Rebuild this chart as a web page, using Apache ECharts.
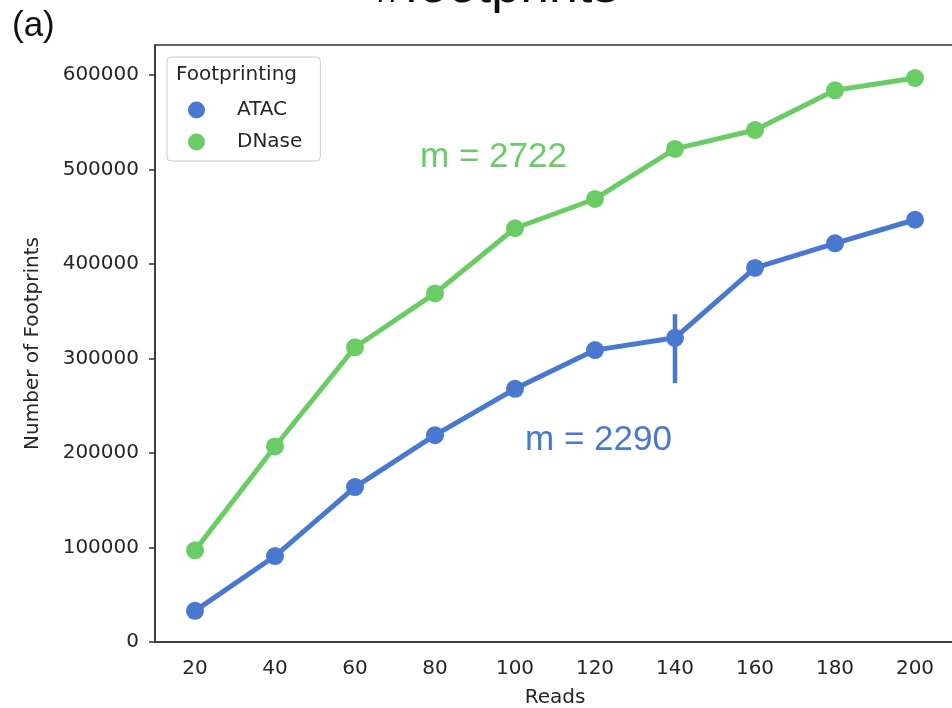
<!DOCTYPE html>
<html>
<head>
<meta charset="utf-8">
<script src="https://cdn.jsdelivr.net/npm/echarts@6/dist/echarts.min.js"></script>
<style>
  html, body { margin: 0; padding: 0; background: #fff; }
  #main { width: 952px; height: 708px; }
</style>
</head>
<body>
<div id="main"></div>
<script>
// reads (x categories)
const reads = ['20', '40', '60', '80', '100', '120', '140', '160', '180', '200'];
// number of footprints
const atac = [33000, 91000, 164000, 219000, 268000, 309000, 322000, 396000, 422000, 447000];
const dnase = [97000, 207000, 312000, 369000, 438000, 469000, 522000, 542000, 584000, 597000];
// visible error bar (ATAC, 140)
const errCats = ['140'];
const errLow = [274000];
const errHigh = [347000];

const blue = '#4878d0';
const green = '#6acc64';
const axisColor = '#333';
const font = 'DejaVu Sans';

const chart = echarts.init(document.getElementById('main'));

const errData = errCats.map((c, i) => [c, errLow[i], errHigh[i]]);

const option = {
  backgroundColor: '#fff',
  animation: false,
  grid: {
    left: 155, top: 45, width: 800, height: 597,
    outerBoundsMode: 'none',
    containLabel: false,
    show: true, borderColor: axisColor, borderWidth: 1.5
  },
  legend: {
    orient: 'vertical',
    left: 167, top: 57,
    padding: [43, 18, 9, 21],
    itemGap: 12,
    itemWidth: 17, itemHeight: 17,
    icon: 'circle',
    borderColor: '#ccc', borderWidth: 1, borderRadius: 4,
    backgroundColor: 'rgba(255,255,255,0.85)',
    textStyle: { fontFamily: font, fontSize: 20, color: '#262626', lineHeight: 20, padding: [0, 0, 0, 27] },
    data: ['ATAC', 'DNase']
  },
  xAxis: {
    type: 'category',
    data: reads,
    name: 'Reads',
    nameLocation: 'middle',
    nameGap: 46,
    nameTextStyle: { fontFamily: font, fontSize: 20, color: '#262626' },
    axisLine: { lineStyle: { color: axisColor, width: 1.5 } },
    axisTick: { alignWithLabel: true, length: 6, lineStyle: { color: axisColor, width: 1.5 } },
    axisLabel: { fontFamily: font, fontSize: 20, color: '#262626', margin: 17 },
    splitLine: { show: false }
  },
  yAxis: {
    type: 'value',
    min: 0, max: 632000, interval: 100000,
    name: 'Number of Footprints',
    nameLocation: 'middle',
    nameGap: 112,
    nameTextStyle: { fontFamily: font, fontSize: 20, color: '#262626' },
    axisLine: { show: true, lineStyle: { color: axisColor, width: 1.5 } },
    axisTick: { show: true, length: 6, lineStyle: { color: axisColor, width: 1.5 } },
    axisLabel: {
      fontFamily: font, fontSize: 20, color: '#262626', margin: 16, showMaxLabel: false,
      formatter: function (v) { return String(v); }
    },
    splitLine: { show: false }
  },
  series: [
    {
      name: 'ATAC', type: 'line', data: atac,
      symbol: 'circle', symbolSize: 18,
      itemStyle: { color: blue },
      lineStyle: { color: blue, width: 5 },
      z: 3
    },
    {
      name: 'DNase', type: 'line', data: dnase,
      symbol: 'circle', symbolSize: 18,
      itemStyle: { color: green },
      lineStyle: { color: green, width: 5 },
      z: 3
    },
    {
      name: 'ATAC err', type: 'custom', data: errData,
      renderItem: function (params, api) {
        const x = api.value(0);
        const lo = api.coord([x, api.value(1)]);
        const hi = api.coord([x, api.value(2)]);
        return {
          type: 'line',
          shape: { x1: lo[0], y1: lo[1], x2: hi[0], y2: hi[1] },
          style: { stroke: blue, lineWidth: 4.5 }
        };
      },
      z: 4
    }
  ],
  graphic: [
    { type: 'text', left: 12, top: 9, style: { text: '(a)', font: '35px "Liberation Sans"', fill: '#111' } },
    { type: 'text', x: 497, y: 14, style: { text: '#footprints', font: '52px "Liberation Sans"', fill: '#111', align: 'center', verticalAlign: 'bottom' } },
    { type: 'text', x: 176, y: 75, z: 100, style: { text: 'Footprinting', font: '20px "DejaVu Sans"', fill: '#262626', verticalAlign: 'middle' } },
    { type: 'text', x: 420, y: 157, style: { text: 'm = 2722', font: '35px "Liberation Sans"', fill: green, verticalAlign: 'middle' } },
    { type: 'text', x: 525, y: 440, style: { text: 'm = 2290', font: '35px "Liberation Sans"', fill: blue, verticalAlign: 'middle' } }
  ]
};

chart.setOption(option);
</script>
</body>
</html>
